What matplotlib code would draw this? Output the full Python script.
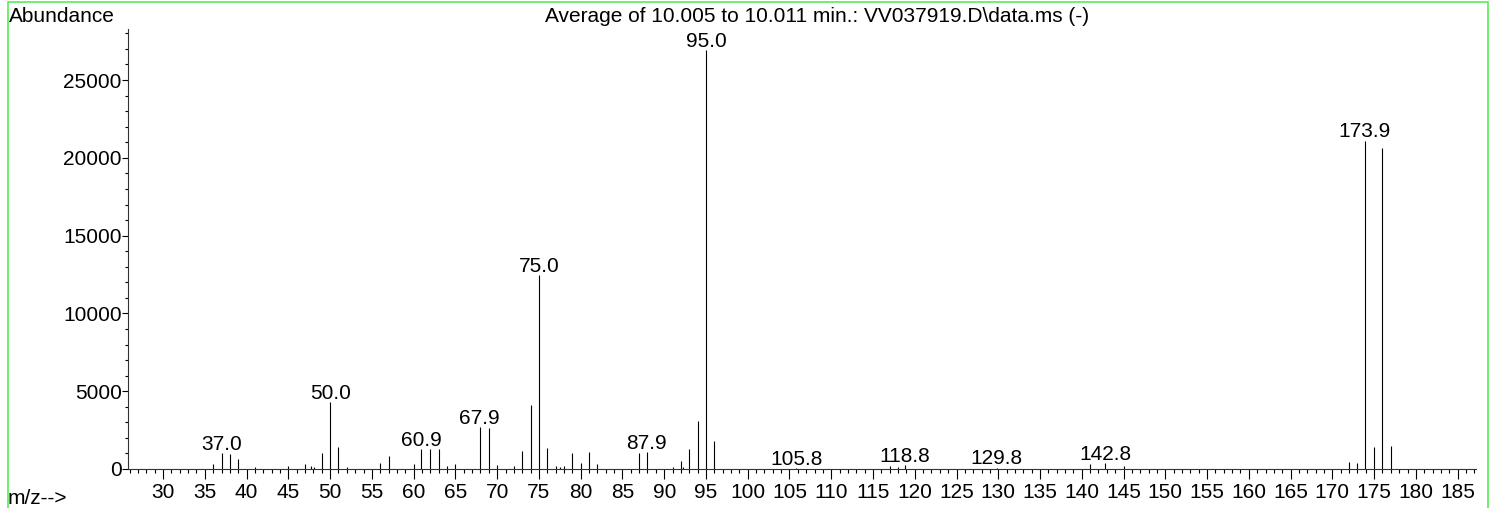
import matplotlib
matplotlib.use("Agg")
import matplotlib.pyplot as plt
from matplotlib.ticker import MultipleLocator
from matplotlib.patches import Rectangle

plt.rcParams["font.family"] = ["Liberation Sans", "DejaVu Sans"]

# spectrum (m/z, abundance)
mz = [36.0, 37.0, 38.0, 39.0, 41.0, 45.0, 47.0, 47.7, 48.1, 49.0, 50.0, 51.0, 52.0,
      56.0, 57.0, 60.0, 60.9, 62.0, 63.0, 64.0, 65.0, 67.9, 69.0, 70.0, 72.0, 73.0,
      74.0, 75.0, 76.0, 77.0, 77.5, 78.0, 79.0, 80.0, 81.0, 82.0, 87.0, 87.9, 91.0,
      92.0, 92.2, 93.0, 94.0, 95.0, 96.0, 105.8, 117.0, 118.0, 118.8, 129.8, 141.0,
      142.8, 145.0, 172.0, 173.0, 173.9, 175.0, 176.0, 177.0]
abundance = [300, 1030, 965, 665, 110, 190, 300, 200, 150, 1040, 4310, 1400, 150,
             367, 850, 320, 1286, 1270, 1286, 193, 300, 2680, 2650, 240, 194, 1187,
             4123, 12470, 1339, 172, 108, 194, 1015, 388, 1080, 324, 1060, 1100, 150,
             514, 150, 1307, 3085, 26930, 1800, 60, 214, 150, 257, 85, 300,
             385, 194, 470, 365, 21100, 1433, 20650, 1450]
labelled = [37.0, 50.0, 60.9, 67.9, 75.0, 87.9, 95.0, 105.8, 118.8, 129.8, 142.8, 173.9]

title = "Average of 10.005 to 10.011 min.: VV037919.D\\data.ms (-)"
fs = 15

W, H = 1492, 508
fig = plt.figure(figsize=(W / 100, H / 100), dpi=100)
ax = fig.add_axes([128 / W, 39 / H, (1476 - 128) / W, (469 - 29) / H])

ax.vlines(mz, 0, abundance, color="black", linewidth=0.8)
for m, a in zip(mz, abundance):
    if m in labelled:
        ax.annotate(f"{m:.1f}", (m, a), xytext=(0, -0.5), textcoords="offset points",
                    ha="center", va="bottom", fontsize=fs)

ax.set_xlim(25.8, 187.2)
ax.set_ylim(0, 28280)
ax.xaxis.set_minor_locator(MultipleLocator(1))
ax.yaxis.set_major_locator(MultipleLocator(5000))
ax.yaxis.set_minor_locator(MultipleLocator(1000))
ax.set_xticks(range(30, 186, 5))
ax.tick_params(axis="x", which="major", length=7, width=0.8, pad=3, labelsize=fs)
ax.tick_params(axis="x", which="minor", length=3, width=0.8)
ax.tick_params(axis="y", which="major", length=4, width=0.8, pad=0.5, labelsize=fs)
ax.tick_params(axis="y", which="minor", length=2, width=0.8)
for s in ["top", "right"]:
    ax.spines[s].set_visible(False)
for s in ["left", "bottom"]:
    ax.spines[s].set_linewidth(0.8)
    ax.spines[s].set_color("#333333")

fig.text(8.5 / W, 1 - 21.5 / H, "Abundance", fontsize=fs, va="baseline", ha="left")
fig.text(817 / W, 1 - 22 / H, title, fontsize=fs, va="baseline", ha="center")
fig.text(8 / W, 1 - 504 / H, "m/z-->", fontsize=fs, va="baseline", ha="left")

# green frame round the page
fig.patches.append(Rectangle((8 / W, -0.05), (1488 - 8) / W, 1.05 - 1.5 / H,
                             transform=fig.transFigure, fill=False,
                             edgecolor="#55ee55", linewidth=1.2))

fig.savefig("out.png", dpi=100)
